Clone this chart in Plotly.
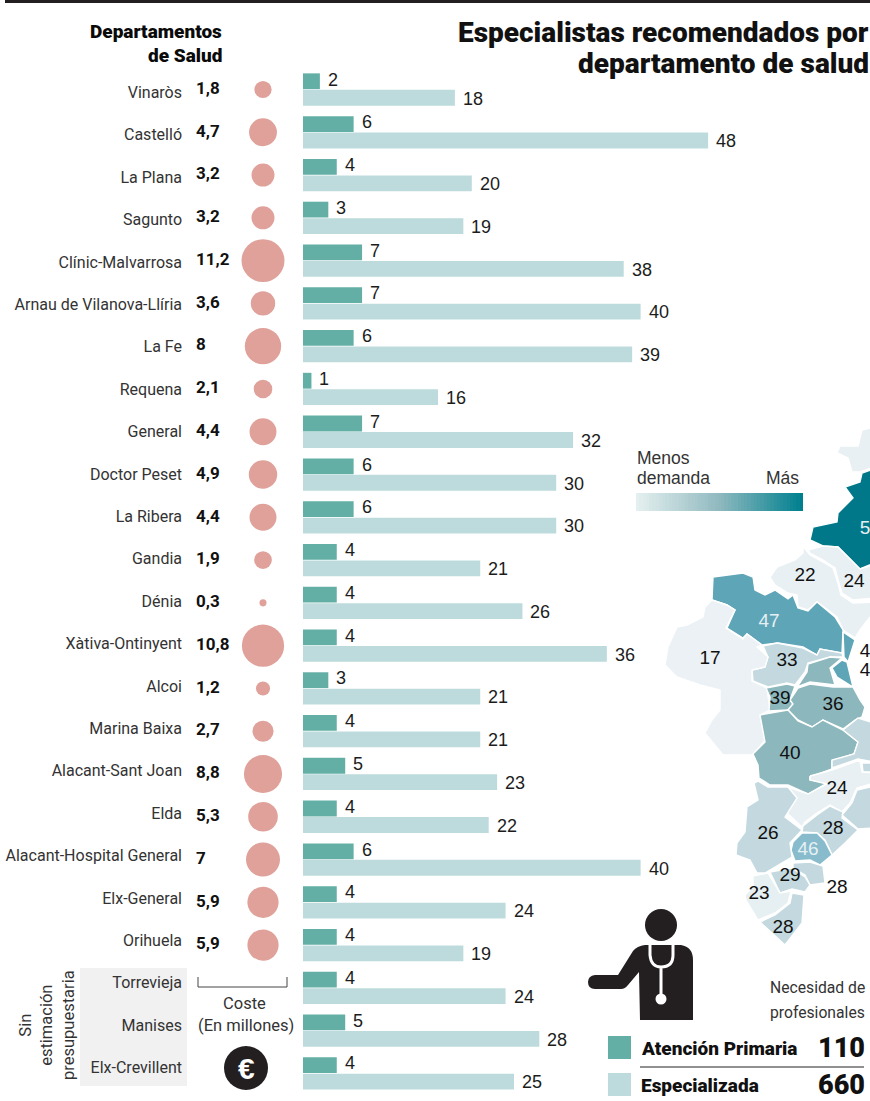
import plotly.graph_objects as go

W, H = 870, 1101
NARROW = "Roboto"
SANS = "Liberation Sans"
HEAVY = "Roboto"

departments = ["Vinaròs", "Castelló", "La Plana", "Sagunto", "Clínic-Malvarrosa", "Arnau de Vilanova-Llíria",
               "La Fe", "Requena", "General", "Doctor Peset", "La Ribera", "Gandia", "Dénia", "Xàtiva-Ontinyent",
               "Alcoi", "Marina Baixa", "Alacant-Sant Joan", "Elda", "Alacant-Hospital General", "Elx-General",
               "Orihuela", "Torrevieja", "Manises", "Elx-Crevillent"]
primaria = [2, 6, 4, 3, 7, 7, 6, 1, 7, 6, 6, 4, 4, 4, 3, 4, 5, 4, 6, 4, 4, 4, 5, 4]
especializada = [18, 48, 20, 19, 38, 40, 39, 16, 32, 30, 30, 21, 26, 36, 21, 21, 23, 22, 40, 24, 19, 24, 28, 25]
coste = [1.8, 4.7, 3.2, 3.2, 11.2, 3.6, 8, 2.1, 4.4, 4.9, 4.4, 1.9, 0.3, 10.8, 1.2, 2.7, 8.8, 5.3, 7, 5.9, 5.9]

map_regions = [
    ("Vinaros", "#e9f0f3", [(874,427),(862,430),(858,446),(840,446),(837,453),(848,458),(852,472),(860,472),(874,467)]),
    ("Castello", "#00788a", [(874,469),(862,473),(860,482),(845,487),(853,498),(838,513),(837,522),(813,527),(810,540),(823,546),(838,547),(860,569),(874,563)]),
    ("North22", "#e9f0f3", [(770,577),(777,567),(795,560),(803,553),(803,546),(810,555),(823,562),(833,568),(838,583),(841,595),(853,603),(874,602),(874,612),(860,630),(855,638),(843,630),(837,617),(817,602),(808,610),(798,607),(797,595),(788,593),(775,585)]),
    ("North24", "#e9f0f3", [(808,550),(823,546),(838,547),(860,569),(874,565),(874,598),(853,600),(842,593),(838,580),(835,568),(823,560),(810,553)]),
    ("Region47", "#5fa5b8", [(713,577),(728,575),(743,573),(753,577),(755,590),(765,595),(775,590),(788,599),(793,595),(798,608),(808,611),(817,602),(835,617),(843,630),(842,653),(820,649),(817,655),(803,647),(778,643),(762,645),(747,634),(743,638),(727,628),(735,610),(727,605),(712,600)]),
    ("Strip1", "#5fa5b8", [(843,632),(855,640),(848,662),(844,657)]),
    ("Strip2", "#5fa5b8", [(842,660),(847,662),(853,687),(837,677),(832,668)]),
    ("Region33", "#c3d9df", [(763,646),(777,643),(803,648),(817,655),(820,649),(842,653),(843,657),(830,657),(808,663),(805,672),(795,685),(787,683),(768,687),(753,681),(752,670),(765,667),(768,657)]),
    ("Region17", "#ebf1f4", [(712,600),(727,605),(735,610),(726,628),(743,639),(747,634),(762,645),(757,647),(768,657),(765,667),(752,670),(752,681),(767,688),(768,697),(770,710),(760,715),(765,740),(753,755),(723,755),(705,733),(712,720),(720,710),(720,690),(700,685),(677,677),(665,665),(668,647),(677,627),(687,625),(703,617),(705,607)]),
    ("Region39", "#8cb7bc", [(766,688),(787,684),(795,686),(790,700),(793,704),(788,710),(769,711),(770,697)]),
    ("Region36", "#8cb7bc", [(790,700),(798,688),(810,684),(833,687),(853,687),(860,700),(865,707),(862,717),(855,720),(843,729),(823,720),(812,727),(798,720),(788,710),(793,704)]),
    ("Middle", "#8cb7bc", [(808,664),(830,657),(842,658),(830,668),(835,685),(810,682),(797,687),(807,672)]),
    ("Region40", "#8cb7bc", [(760,715),(788,710),(798,721),(812,727),(823,720),(843,730),(858,742),(854,754),(832,761),(832,769),(810,777),(810,780),(827,783),(808,794),(788,785),(770,785),(759,778),(758,765),(753,754),(765,742)]),
    ("East1", "#c3d9df", [(843,730),(858,718),(874,723),(874,762),(858,759),(832,768),(832,760),(854,754),(858,742)]),
    ("East2", "#c3d9df", [(862,763),(874,763),(874,772),(863,772)]),
    ("South24", "#e9f0f3", [(810,776),(832,770),(860,760),(862,772),(874,773),(874,783),(857,788),(850,803),(842,812),(830,805),(817,813),(805,822),(802,827),(787,813),(797,798),(788,787),(808,794),(827,784),(810,780)]),
    ("North46", "#c3d9df", [(803,826),(817,815),(830,806),(843,812),(842,818),(858,830),(845,843),(832,855),(825,840),(817,833),(802,832)]),
    ("East3", "#c3d9df", [(842,815),(852,803),(857,790),(874,786),(874,828),(858,829)]),
    ("Region46", "#88bccd", [(802,833),(817,833),(825,841),(832,855),(820,865),(810,860),(795,861),(791,850),(793,842)]),
    ("Region26", "#c3d9df", [(754,783),(758,781),(768,787),(788,787),(797,798),(785,817),(802,830),(790,843),(792,857),(765,873),(757,873),(750,860),(736,855),(737,843),(745,832),(747,807),(758,800),(755,788)]),
    ("Region29", "#c3d9df", [(770,872),(792,868),(805,877),(810,885),(805,892),(792,889),(780,893)]),
    ("Coast28", "#c3d9df", [(793,863),(810,862),(823,866),(825,883),(810,885),(805,875),(793,868)]),
    ("Region23", "#e6eff1", [(753,876),(768,873),(780,893),(791,891),(788,903),(775,913),(758,920),(746,900),(745,895),(753,887)]),
    ("South28", "#c3d9df", [(792,893),(804,895),(802,923),(785,945),(760,922),(775,915),(790,903)]),
]
map_label_text = ["17", "33", "39", "36", "40", "24", "22", "24", "26", "28", "29", "23", "28", "28", "4", "4"]
map_label_x = [710, 787, 780, 833, 790, 837, 805, 854, 768, 833, 790, 759, 837, 783, 865, 865]
map_label_y = [659, 661, 699, 705, 754, 789, 576, 582, 834, 829, 876, 894, 888, 928, 652, 671]
map_light_text = ["47", "46", "5"]
map_light_x = [769, 808, 865]
map_light_y = [622, 850, 529]
ramp_steps = list(range(0, 101, 2))

C_PRIM, C_ESP, C_CIRC, C_DARK = "#63afa5", "#bddbdc", "#dfa19a", "#231f20"
INK, SOFT = "#1c1c1c", "#333333"

fig = go.Figure()

# Bars
fig.add_bar(y=departments, x=primaria, orientation="h", marker=dict(color=C_PRIM, line_width=0), xaxis="x", yaxis="y")
fig.add_bar(y=departments, x=especializada, orientation="h", marker=dict(color=C_ESP, line_width=0), xaxis="x", yaxis="y")

# Department names
fig.add_trace(go.Scatter(y=departments, x=["Nombre"] * len(departments), mode="text", text=departments,
                         textposition="middle left", textfont=dict(family=NARROW, size=16, color=SOFT),
                         xaxis="x5", yaxis="y5", cliponaxis=False))

# Cost column
cost_depts = departments[:len(coste)]
fig.add_trace(go.Scatter(y=cost_depts, x=["Importe"] * len(coste), mode="text",
                         text=[f"{v:g}".replace(".", ",") for v in coste], textposition="middle right",
                         textfont=dict(family=NARROW, size=17, color="#111111", weight="bold"),
                         xaxis="x2", yaxis="y", cliponaxis=False))
fig.add_trace(go.Scatter(y=cost_depts, x=["Coste"] * len(coste), mode="markers",
                         marker=dict(size=coste, sizemode="area", sizeref=2 / 165, color=C_CIRC, line_width=0, opacity=1),
                         xaxis="x2", yaxis="y", cliponaxis=False))

# Map
for name, color, pts in map_regions:
    fig.add_trace(go.Scatter(x=[p[0] for p in pts] + [pts[0][0]], y=[p[1] for p in pts] + [pts[0][1]],
                             mode="lines", fill="toself", fillcolor=color, name=name,
                             line=dict(color="white", width=1.4), xaxis="x3", yaxis="y3", hoverinfo="skip"))
fig.add_trace(go.Scatter(x=map_label_x, y=map_label_y, text=map_label_text, mode="text",
                         textfont=dict(family=SANS, size=19, color="#111111"), xaxis="x3", yaxis="y3"))
fig.add_trace(go.Scatter(x=map_light_x, y=map_light_y, text=map_light_text, mode="text",
                         textfont=dict(family=SANS, size=19, color="#e6f0f3"), xaxis="x3", yaxis="y3"))

# Legend ramp
fig.add_trace(go.Heatmap(z=[ramp_steps], x=ramp_steps, y=["ramp"], xaxis="x4", yaxis="y4", showscale=False,
                         colorscale=[[0, "#e4efef"], [0.5, "#8fb9bf"], [1, "#00808f"]], hoverinfo="skip"))

# Page annotations
def txt(x, y, s, size, anchor="center", family=NARROW, color=SOFT, weight=None, angle=0):
    return dict(x=x, y=y, xref="x3", yref="y3", text=s, showarrow=False, xanchor=anchor, yanchor="middle",
                font=dict(family=family, size=size, color=color, weight=weight), align=anchor if anchor != "center" else "center",
                textangle=angle, borderpad=0)

ann = [
    txt(870, 32, "Especialistas recomendados por", 28, "right", HEAVY, "#111111", 900),
    txt(870, 63, "departamento de salud", 28, "right", HEAVY, "#111111", 900),
    txt(223, 31, "Departamentos", 19, "right", NARROW, "#0a0a0a", 900),
    txt(223, 55, "de Salud", 19, "right", NARROW, "#0a0a0a", 900),
    txt(636, 458, "Menos", 17.5, "left", SANS),
    txt(636, 478, "demanda", 17.5, "left", SANS),
    txt(800, 478, "Más", 17.5, "right", SANS),
    txt(244, 1003, "Coste", 16.5),
    txt(246, 1025, "(En millones)", 16.5),
    txt(47, 1025, "Sin<br>estimación<br>presupuestaria", 16.5, angle=-90),
    txt(866, 987, "Necesidad de", 15.7, "right"),
    txt(866, 1012, "profesionales", 15.7, "right"),
    txt(640, 1048, "Atención Primaria", 19, "left", HEAVY, "#111111", 900),
    txt(640, 1085, "Especializada", 19, "left", HEAVY, "#111111", 900),
    txt(866, 1048, "110", 27, "right", HEAVY, "#111111", 900),
    txt(866, 1085, "660", 27, "right", HEAVY, "#111111", 900),
    txt(246, 1068, "€", 30, "center", SANS, "white", "bold"),
]
for series, shift in ((primaria, 10), (especializada, -9)):
    for d, v in zip(departments, series):
        ann.append(dict(x=v, y=d, xref="x", yref="y", text=str(v), showarrow=False, xanchor="left", yanchor="middle",
                        xshift=6, yshift=shift, font=dict(family=SANS, size=18, color=INK)))

def rect(x0, y0, x1, y1, color):
    return dict(type="rect", xref="x3", yref="y3", x0=x0, y0=y0, x1=x1, y1=y1, fillcolor=color, line_width=0)

def circle(cx, cy, r, color):
    return dict(type="circle", xref="x3", yref="y3", x0=cx - r, y0=cy - r, x1=cx + r, y1=cy + r,
                fillcolor=color, line_width=0)

shapes = [
    rect(5, 0, 870, 3, C_DARK),
    dict(type="rect", xref="paper", yref="paper", x0=80 / W, x1=187 / W, y0=1 - 1086 / H, y1=1 - 968 / H,
         fillcolor="#f1f1f1", line_width=0, layer="below"),
    dict(type="path", xref="x3", yref="y3", path="M198,977 L198,987 L287,987 L287,977", line=dict(color="#444444", width=1)),
    circle(246, 1068, 22, C_DARK),
    rect(608, 1036, 631, 1059, C_PRIM),
    rect(608, 1073, 631, 1096, C_ESP),
    dict(type="line", xref="x3", yref="y3", x0=640, x1=864, y0=1067, y1=1067, line=dict(color="#222222", width=1)),
    circle(661, 925, 16, C_DARK),
    dict(type="path", xref="x3", yref="y3", fillcolor=C_DARK, line_width=0,
         path="M640,1020 L693,1020 L693,960 Q693,947 681,945 L645,945 Q637,946 633,951 L618,975 L595,975 "
              "Q588,976 588,982 Q588,989 595,989 L621,989 Q625,989 628,985 L639,972 Z"),
    dict(type="path", xref="x3", yref="y3", line=dict(color="white", width=3),
         path="M650,945 L650,955 Q651,967 661,967 Q673,967 673,955 L673,945 M661,967 L661,998"),
    circle(661, 999, 5.5, "white"),
]

def hidden(**kw):
    return dict(visible=False, fixedrange=True, **kw)

fig.update_layout(
    width=W, height=H, margin=dict(l=0, r=0, t=0, b=0), showlegend=False, paper_bgcolor="white", plot_bgcolor="rgba(0,0,0,0)",
    barmode="group", bargap=0.23, bargroupgap=0.04,
    xaxis=hidden(domain=[303 / W, 1], range=[0, (W - 303) / 8.44], anchor="y"),
    yaxis=hidden(domain=[0, 1], anchor="x", type="category", categoryorder="array", categoryarray=departments,
                 range=[(H - 89.5) / 42.78, -89.5 / 42.78]),
    xaxis2=hidden(domain=[(196 - 67) / W, (263 + 67) / W], type="category", categoryorder="array",
                  categoryarray=["Importe", "Coste"], range=[-1, 2], anchor="y"),
    xaxis3=hidden(domain=[0, 1], range=[0, W], anchor="y3"),
    yaxis3=hidden(domain=[0, 1], range=[H, 0], anchor="x3"),
    xaxis4=hidden(domain=[636 / W, 803 / W], anchor="y4"),
    yaxis4=hidden(domain=[(H - 511) / H, (H - 493) / H], anchor="x4"),
    xaxis5=hidden(domain=[(182 - 100) / W, (182 + 100) / W], type="category", range=[-0.5, 0.5], anchor="y5"),
    yaxis5=hidden(domain=[0, 1], anchor="x5", type="category", categoryorder="array", categoryarray=departments,
                  range=[(H - 94) / 42.4, -94 / 42.4]),
    annotations=ann, shapes=shapes,
)
fig.write_html("out.html", config={"displayModeBar": False}, post_script="document.body.style.margin='0';")
